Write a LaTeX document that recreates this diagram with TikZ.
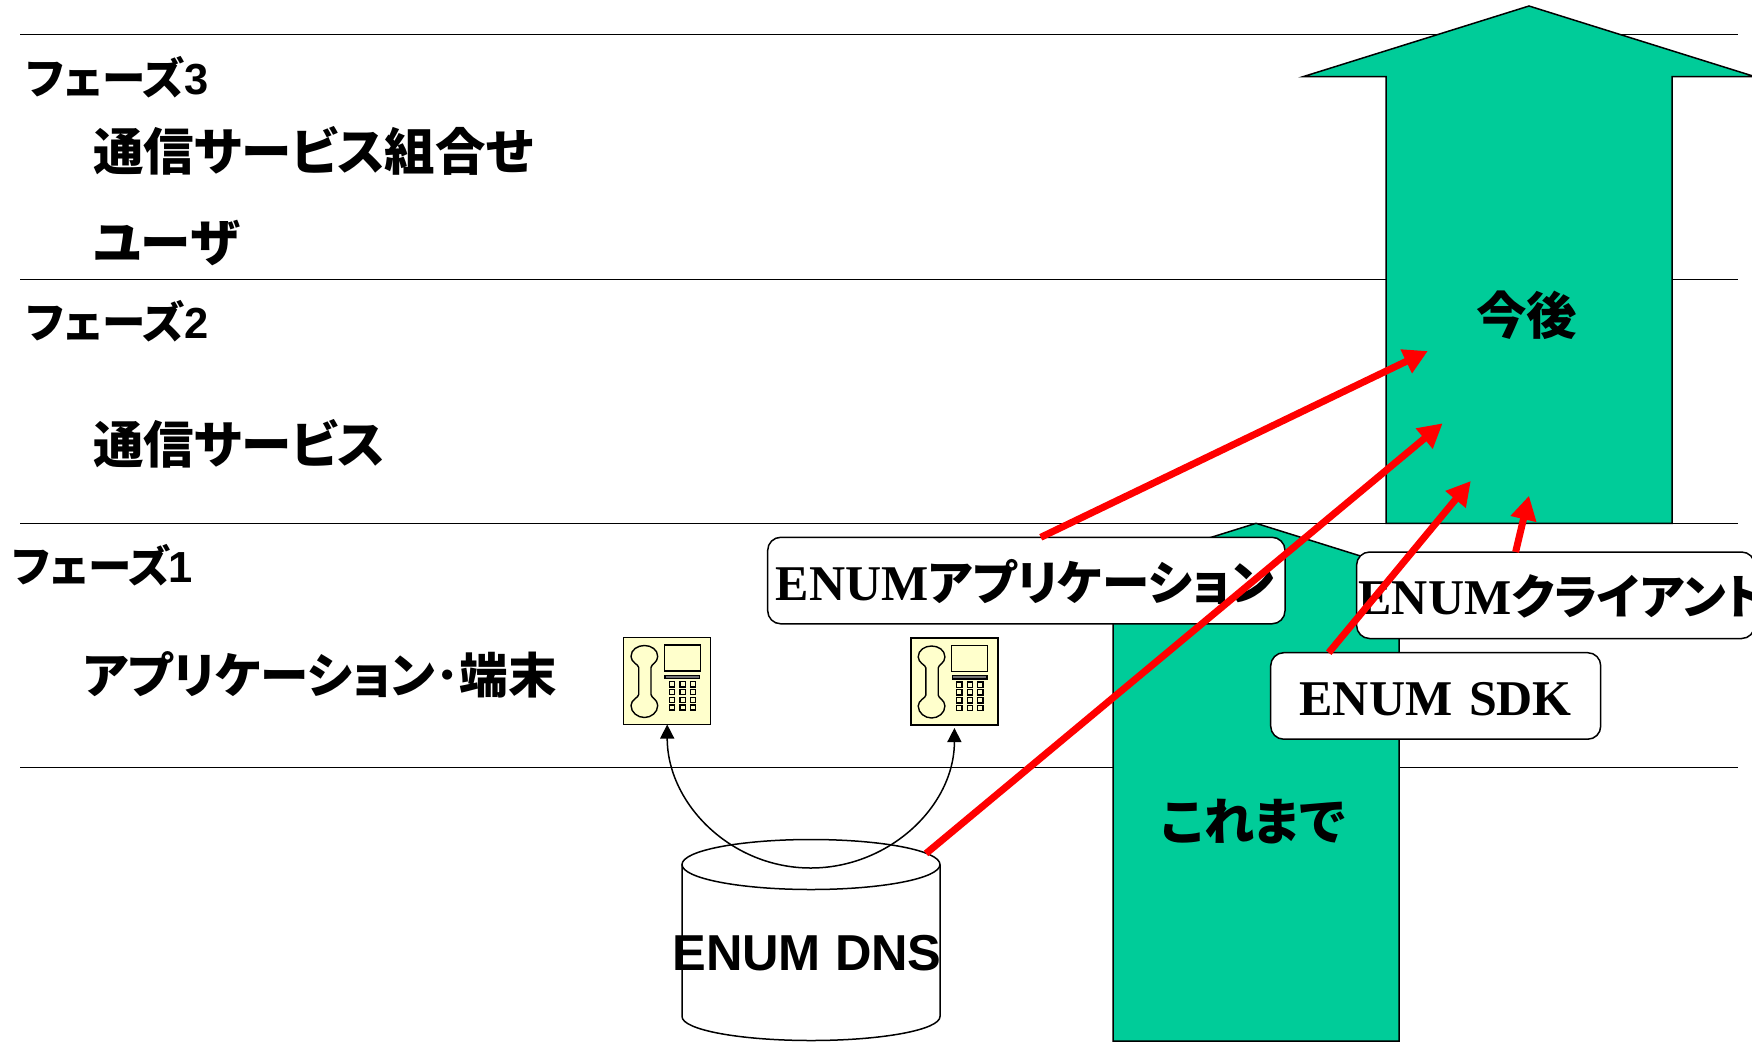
\documentclass[tikz,border=0pt]{standalone}
\usepackage{fontspec}
\setmainfont{Liberation Sans}
\newfontfamily\serifbold{Liberation Serif}
\newfontfamily\jpfont[RawFeature=+palt]{Noto Sans CJK JP}
\newcommand{\jp}[1]{{\jpfont\bfseries #1}}
\newcommand{\jpbox}[1]{{\fontsize{47.5}{47.5}\selectfont\jpfont\bfseries #1}}
\usetikzlibrary{arrows.meta,positioning}
\definecolor{phasegreen}{HTML}{00CC99}
\definecolor{phoneyellow}{HTML}{FFFFCC}
\tikzset{
phaseline/.style={line width=1.5pt},
phaselabel/.style={
  anchor=base west,
  inner sep=0pt,
  font=\fontsize{43.5}{43.5}\selectfont\bfseries
  },
biglabel/.style={
  anchor=base west,
  inner sep=0pt,
  font=\fontsize{50.5}{50.5}\selectfont\bfseries
  },
greenarrow/.style={draw=black,fill=phasegreen,line width=1.5pt,line join=miter},
roundbox/.style={
  rectangle,
  draw=black,
  fill=white,
  line width=1.5pt,
  rounded corners=13pt,
  anchor=north west,
  outer sep=0pt,
  inner ysep=0pt,
  minimum height=86.5pt,
  text height=39pt,
  text depth=0pt,
  font=\fontsize{50}{50}\selectfont\serifbold\bfseries
  },
phonebox/.style={
  rectangle,
  draw=black,
  fill=phoneyellow,
  line width=1.5pt,
  outer sep=0pt,
  minimum size=87pt
  },
dbbody/.style={
  rectangle,
  inner sep=0pt,
  outer sep=0pt,
  minimum width=258pt,
  minimum height=201pt
  },
dbline/.style={draw=black,line width=1.5pt},
redarrow/.style={draw=red,line width=7pt,-{Triangle[length=24pt,width=25pt]}},
curvearrow/.style={line width=1.5pt,{Triangle[length=14pt,width=14pt]}-{Triangle[length=14pt,width=14pt]}}
}

\begin{document}
\begin{tikzpicture}[x=1pt,y=-1pt]
\useasboundingbox (0,0) rectangle (1752,1044);

\foreach \y in {34.7,279.3,523.3,767.7}
  \draw[phaseline] (20,\y) -- (1737.7,\y);

\foreach \cx/\tip/\btm in {1529/6/523.3,1256/523.3/1041}
  \draw[greenarrow] (\cx,\tip) -- ({\cx+226},{\tip+70.7}) -- ({\cx+143},{\tip+70.7})
    -- ({\cx+143},\btm) -- ({\cx-143},\btm) -- ({\cx-143},{\tip+70.7})
    -- ({\cx-226},{\tip+70.7}) -- cycle;

\node[phaselabel] (phase3) at (26,94) {\jp{フェーズ}3};
\node[biglabel] (svcmix) at (93,170.5) {\jp{通信サービス組合せ}};
\node[biglabel] (user) at (93,261) {\jp{ユーザ}};
\node[phaselabel] (phase2) at (26,338) {\jp{フェーズ}2};
\node[biglabel] (svc) at (93,463) {\jp{通信サービス}};
\node[phaselabel] (phase1) at (12,582) {\jp{フェーズ}\kern-2pt 1};
\node[biglabel,font=\fontsize{48.5}{48.5}\selectfont\bfseries]
  (appterm) at (83,693) {\jp{アプリケーション･端末}};
\node[biglabel] (future) at (1476,334) {\jp{今後}};
\node[biglabel] (sofar) at (1161,840) {\jp{これまで}};

\node[roundbox,minimum width=517.3pt,text width=501pt,align=left,inner xsep=8pt]
  (appbox) at (767.7,537.3) {ENUM\jpbox{アプリケーション}};
\node[roundbox,minimum width=398pt,text width=394pt,align=left,inner xsep=2pt]
  (clientbox) at (1356.6,552) {ENUM\jpbox{クライアント}};
\node[roundbox,minimum width=330pt,text width=310pt,align=center,inner xsep=10pt]
  (sdkbox) at (1270.7,652.7) {ENUM SDK};

\node[phonebox] (phoneA) at (667.2,681) {};
\node[phonebox] (phoneB) at (954.4,681.5) {};

\foreach \ph in {phoneA,phoneB} {
\begin{scope}[shift={(\ph.north west)},line width=1.4pt]
\draw (15,30) .. controls (15,27) and (7.3,25) .. (7.3,19)
  .. controls (7.3,12) and (14,8) .. (20.7,8)
  .. controls (27.4,8) and (34,12) .. (34,19)
  .. controls (34,25) and (27.3,27) .. (27.3,30) -- (27.3,57)
  .. controls (27.3,60) and (34,62) .. (34,68)
  .. controls (34,75) and (27.4,80) .. (20.7,80)
  .. controls (14,80) and (7.3,75) .. (7.3,68)
  .. controls (7.3,62) and (15,60) .. (15,57) -- cycle;
\draw (40.7,7.3) rectangle (76.7,33.3);
\draw[fill=black!55] (41.3,37.7) rectangle (76,41);
\foreach \kx in {48.3,59,69.3}
  \foreach \ky in {46.7,54.3,62.3,70}
    \draw ({\kx-2.6},{\ky-2.6}) rectangle ({\kx+2.6},{\ky+2.6});
\end{scope}
}

\node[dbbody] (db) at (811,940) {};
\coordinate (dbtop) at ([yshift=-25pt]db.north);
\draw[dbline] (dbtop) ellipse [x radius=129pt,y radius=25pt];
\draw[dbline] ([yshift=-25pt]db.north west) -- ([yshift=24pt]db.south west)
  arc[start angle=180,end angle=360,x radius=129pt,y radius=24pt]
  -- ([yshift=-25pt]db.north east);
\node[anchor=base,inner sep=0pt,font=\fontsize{50.5}{50.5}\selectfont\bfseries]
  (dblabel) at (807,970) {ENUM DNS};

\coordinate (arcmid) at (810.7,868);
\draw[curvearrow] (phoneA.south) to[out=-90,in=180] (arcmid)
  to[out=0,in=-90] ([yshift=-3pt]phoneB.south);

\coordinate (targetA) at (1427.8,351);
\coordinate (targetB) at (1442.6,423.3);
\coordinate (targetC) at (1470.8,481);
\coordinate (targetD) at (1529,495.7);
\draw[redarrow] ([xshift=14.4pt]appbox.north) -- (targetA);
\draw[redarrow] ([xshift=115pt,yshift=-14pt]db.north) -- (targetB);
\draw[redarrow] ([xshift=-107pt]sdkbox.north) -- (targetC);
\draw[redarrow] ([xshift=-40pt]clientbox.north) -- (targetD);

\end{tikzpicture}
\end{document}
